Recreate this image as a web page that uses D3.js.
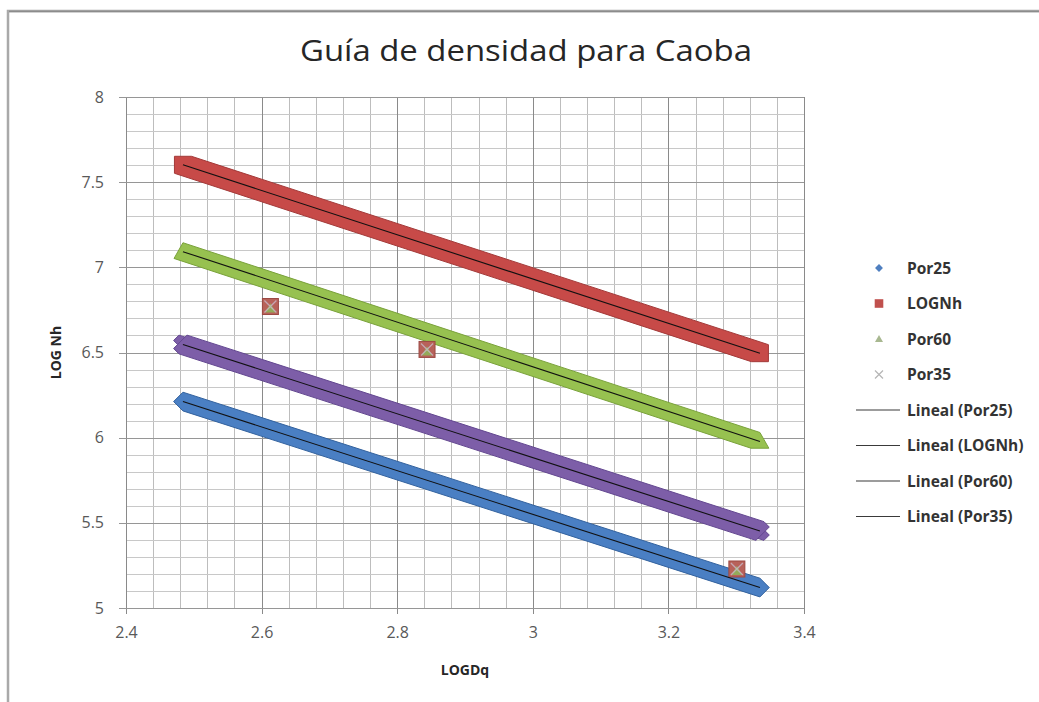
<!DOCTYPE html>
<html>
<head>
<meta charset="utf-8">
<script src="https://cdn.jsdelivr.net/npm/d3@7"></script>
<style>
  html, body { margin: 0; padding: 0; background: #fff; }
  svg { display: block; }
  text { font-family: "Open Sans", "Noto Sans", sans-serif; }
</style>
</head>
<body>
<svg id="chart" width="1039" height="702"></svg>
<script>
// ---------------- data ----------------
const bandX = [2.484, 3.335];                 // x range covered by each dense series
const por25 = [6.212, 5.120];
const logNh = [7.602, 6.496];
const por60 = [7.092, 5.978];
const por35 = [6.547, 5.452];
const sampleX = [2.613, 2.844, 3.301];        // overlapping observed points
const sampleY = [6.770, 6.518, 5.229];
const xTickValues = [2.4, 2.6, 2.8, 3, 3.2, 3.4];
const yTickValues = [5, 5.5, 6, 6.5, 7, 7.5, 8];
const xTickLabels = ["2.4", "2.6", "2.8", "3", "3.2", "3.4"];
const yTickLabels = ["5", "5.5", "6", "6.5", "7", "7.5", "8"];
const legendLabels = ["Por25", "LOGNh", "Por60", "Por35",
  "Lineal (Por25)", "Lineal (LOGNh)", "Lineal (Por60)", "Lineal (Por35)"];
const titleText = "Guía de densidad para Caoba";
const xTitle = "LOGDq";
const yTitle = "LOG Nh";

// ---------------- layout ----------------
const svg = d3.select("#chart");
const x = d3.scaleLinear().domain([2.4, 3.4]).range([126, 804]);
const y = d3.scaleLinear().domain([5, 8]).range([608, 97]);

// outer frame
svg.append("rect").attr("x", 8).attr("y", 11).attr("width", 1200).attr("height", 900)
  .attr("fill", "none").attr("stroke", "#a9a9a9").attr("stroke-width", 2.5);
svg.append("line").attr("x1", 9).attr("x2", 1039).attr("y1", 11.5).attr("y2", 11.5)
  .attr("stroke", "#8c8c8c").attr("stroke-width", 1.5);

// title
svg.append("text").attr("x", 526).attr("y", 61).attr("text-anchor", "middle")
  .attr("font-size", 30).attr("fill", "#262626")
  .attr("textLength", 452).attr("lengthAdjust", "spacingAndGlyphs").text(titleText);

// gridlines
const g = svg.append("g");
const minorX = d3.range(0, 26).map(i => 2.4 + i * 0.04);
const minorY = d3.range(0, 31).map(i => 5 + i * 0.1);
g.selectAll(".mx").data(minorX).join("line")
  .attr("x1", d => Math.round(x(d)) + 0.5).attr("x2", d => Math.round(x(d)) + 0.5)
  .attr("y1", y(8)).attr("y2", y(5)).attr("stroke", "#bdbdbd").attr("stroke-width", 1);
g.selectAll(".my").data(minorY).join("line")
  .attr("y1", d => Math.round(y(d)) + 0.5).attr("y2", d => Math.round(y(d)) + 0.5)
  .attr("x1", x(2.4)).attr("x2", x(3.4)).attr("stroke", "#c8c8c8").attr("stroke-width", 1);
g.selectAll(".MX").data(xTickValues).join("line")
  .attr("x1", d => Math.round(x(d)) + 0.5).attr("x2", d => Math.round(x(d)) + 0.5)
  .attr("y1", y(8)).attr("y2", y(5) + 6).attr("stroke", "#8a8a8a").attr("stroke-width", 1);
g.selectAll(".MY").data(yTickValues).join("line")
  .attr("y1", d => Math.round(y(d)) + 0.5).attr("y2", d => Math.round(y(d)) + 0.5)
  .attr("x1", x(2.4) - 7).attr("x2", x(3.4)).attr("stroke", "#969696").attr("stroke-width", 1);

// axes (labels via d3 axes)
const xAxis = d3.axisBottom(x).tickValues(xTickValues)
  .tickFormat((d, i) => xTickLabels[i]).tickSize(0).tickPadding(22);
const yAxis = d3.axisLeft(y).tickValues(yTickValues)
  .tickFormat((d, i) => yTickLabels[i]).tickSize(0).tickPadding(22);
const gx = svg.append("g").attr("transform", `translate(0,${y(5)})`).call(xAxis);
const gy = svg.append("g").attr("transform", `translate(${x(2.4)},0)`).call(yAxis);
[gx, gy].forEach(a => {
  a.select(".domain").remove();
  a.selectAll("text").attr("font-size", 16).attr("fill", "#595959")
    .attr("font-family", "'Open Sans', sans-serif");
});
gx.selectAll("text").attr("dy", "0.5em");

// axis titles
svg.append("text").attr("x", (x(2.4) + x(3.4)) / 2).attr("y", 675).attr("text-anchor", "middle")
  .attr("font-size", 14).attr("font-weight", "bold").attr("fill", "#262626").text(xTitle);
svg.append("text").attr("transform", `translate(61,${(y(5) + y(8)) / 2}) rotate(-90)`)
  .attr("text-anchor", "middle").attr("font-size", 14).attr("font-weight", "bold")
  .attr("fill", "#262626").text(yTitle);

// ---------------- marker geometry ----------------
function shapes(type, r) {
  if (type === "square") return [[[-r, -r], [r, -r], [r, r], [-r, r]]];
  if (type === "diamond") return [[[0, -r * 1.1], [r * 1.1, 0], [0, r * 1.1], [-r * 1.1, 0]]];
  if (type === "triangle") return [[[0, -r * 1.05], [r * 1.05, r * 0.8], [-r * 1.05, r * 0.8]]];
  if (type === "x") {
    const w = r * 0.42, L = r * 1.05;
    const arm = a => {
      const c = Math.cos(a), s = Math.sin(a);
      return [[-L, -w], [L, -w], [L, w], [-L, w]].map(([u, v]) => [u * c - v * s, u * s + v * c]);
    };
    return [arm(Math.PI / 4), arm(-Math.PI / 4)];
  }
}
function bandPolys(xs, ys, type, r) {
  const p0 = [x(xs[0]), y(ys[0])], p1 = [x(xs[1]), y(ys[1])];
  return shapes(type, r).map(poly => {
    const pts = [];
    poly.forEach(([u, v]) => { pts.push([p0[0] + u, p0[1] + v]); pts.push([p1[0] + u, p1[1] + v]); });
    return d3.polygonHull(pts);
  });
}
const line = d3.line();

const series = [
  { name: "Por25", vals: por25, type: "diamond", fill: "#4a7fc3", edge: "#33629e", r: 8.5 },
  { name: "LOGNh", vals: logNh, type: "square", fill: "#c74a48", edge: "#a33a39", r: 8.5 },
  { name: "Por60", vals: por60, type: "triangle", fill: "#97c150", edge: "#7aa23b", r: 8.5 },
  { name: "Por35", vals: por35, type: "x", fill: "#7d5ea8", edge: "#634790", r: 9 }
];

// dense series drawn as their swept marker band
const bands = svg.append("g");
series.forEach(s => {
  bandPolys(bandX, s.vals, s.type, s.r).forEach(poly => {
    bands.append("path").attr("d", line(poly) + "Z")
      .attr("fill", s.fill).attr("stroke", s.edge).attr("stroke-width", 1)
      .attr("stroke-linejoin", "round");
  });
});

// observed overlapping points
const pts = svg.append("g");
sampleX.forEach((sx, i) => {
  const cx = x(sx), cy = y(sampleY[i]);
  pts.append("rect").attr("x", cx - 8).attr("y", cy - 8).attr("width", 16).attr("height", 16)
    .attr("fill", "#b8625a").attr("stroke", "#9c4a44").attr("stroke-width", 1);
  pts.append("path").attr("d", line(shapes("triangle", 5)[0].map(([u, v]) => [cx + u, cy + 2 + v])) + "Z")
    .attr("fill", "#8fb35a").attr("opacity", 0.9);
  pts.append("path").attr("d", `M${cx - 6},${cy - 6}L${cx + 6},${cy + 6}M${cx + 6},${cy - 6}L${cx - 6},${cy + 6}`)
    .attr("stroke", "#c9b9c9").attr("stroke-width", 1.3).attr("opacity", 0.8);
});

// linear trendlines
const trends = svg.append("g");
series.forEach(s => {
  trends.append("line")
    .attr("x1", x(bandX[0])).attr("y1", y(s.vals[0]))
    .attr("x2", x(bandX[1])).attr("y2", y(s.vals[1]))
    .attr("stroke", "#111").attr("stroke-width", 1.1);
});

// ---------------- legend ----------------
const leg = svg.append("g");
const rowY = d3.range(8).map(i => 268 + i * 35.5);
const legendMarkers = [
  { type: "diamond", fill: "#4f7fc0", r: 3.6 },
  { type: "square", fill: "#c0504d", r: 4.3 },
  { type: "triangle", fill: "#a8b890", r: 3.8 },
  { type: "xsym" }
];
legendLabels.forEach((lab, i) => {
  const cy = rowY[i];
  if (i < 4) {
    const m = legendMarkers[i];
    if (m.type === "xsym") {
      leg.append("path").attr("d", `M875,${cy - 4}L883,${cy + 4}M883,${cy - 4}L875,${cy + 4}`)
        .attr("stroke", "#b5b5b5").attr("stroke-width", 1.2);
    } else {
      leg.append("path").attr("d", line(shapes(m.type, m.r)[0].map(([u, v]) => [879 + u, cy + v])) + "Z")
        .attr("fill", m.fill);
    }
  } else {
    leg.append("line").attr("x1", 856).attr("x2", 900).attr("y1", cy).attr("y2", cy)
      .attr("stroke", "#3a3a3a").attr("stroke-width", 1.2);
  }
  leg.append("text").attr("x", 907).attr("y", cy).attr("dy", "0.36em")
    .attr("font-size", 15.5).attr("font-weight", "bold").attr("fill", "#333").text(lab);
});
</script>
</body>
</html>
